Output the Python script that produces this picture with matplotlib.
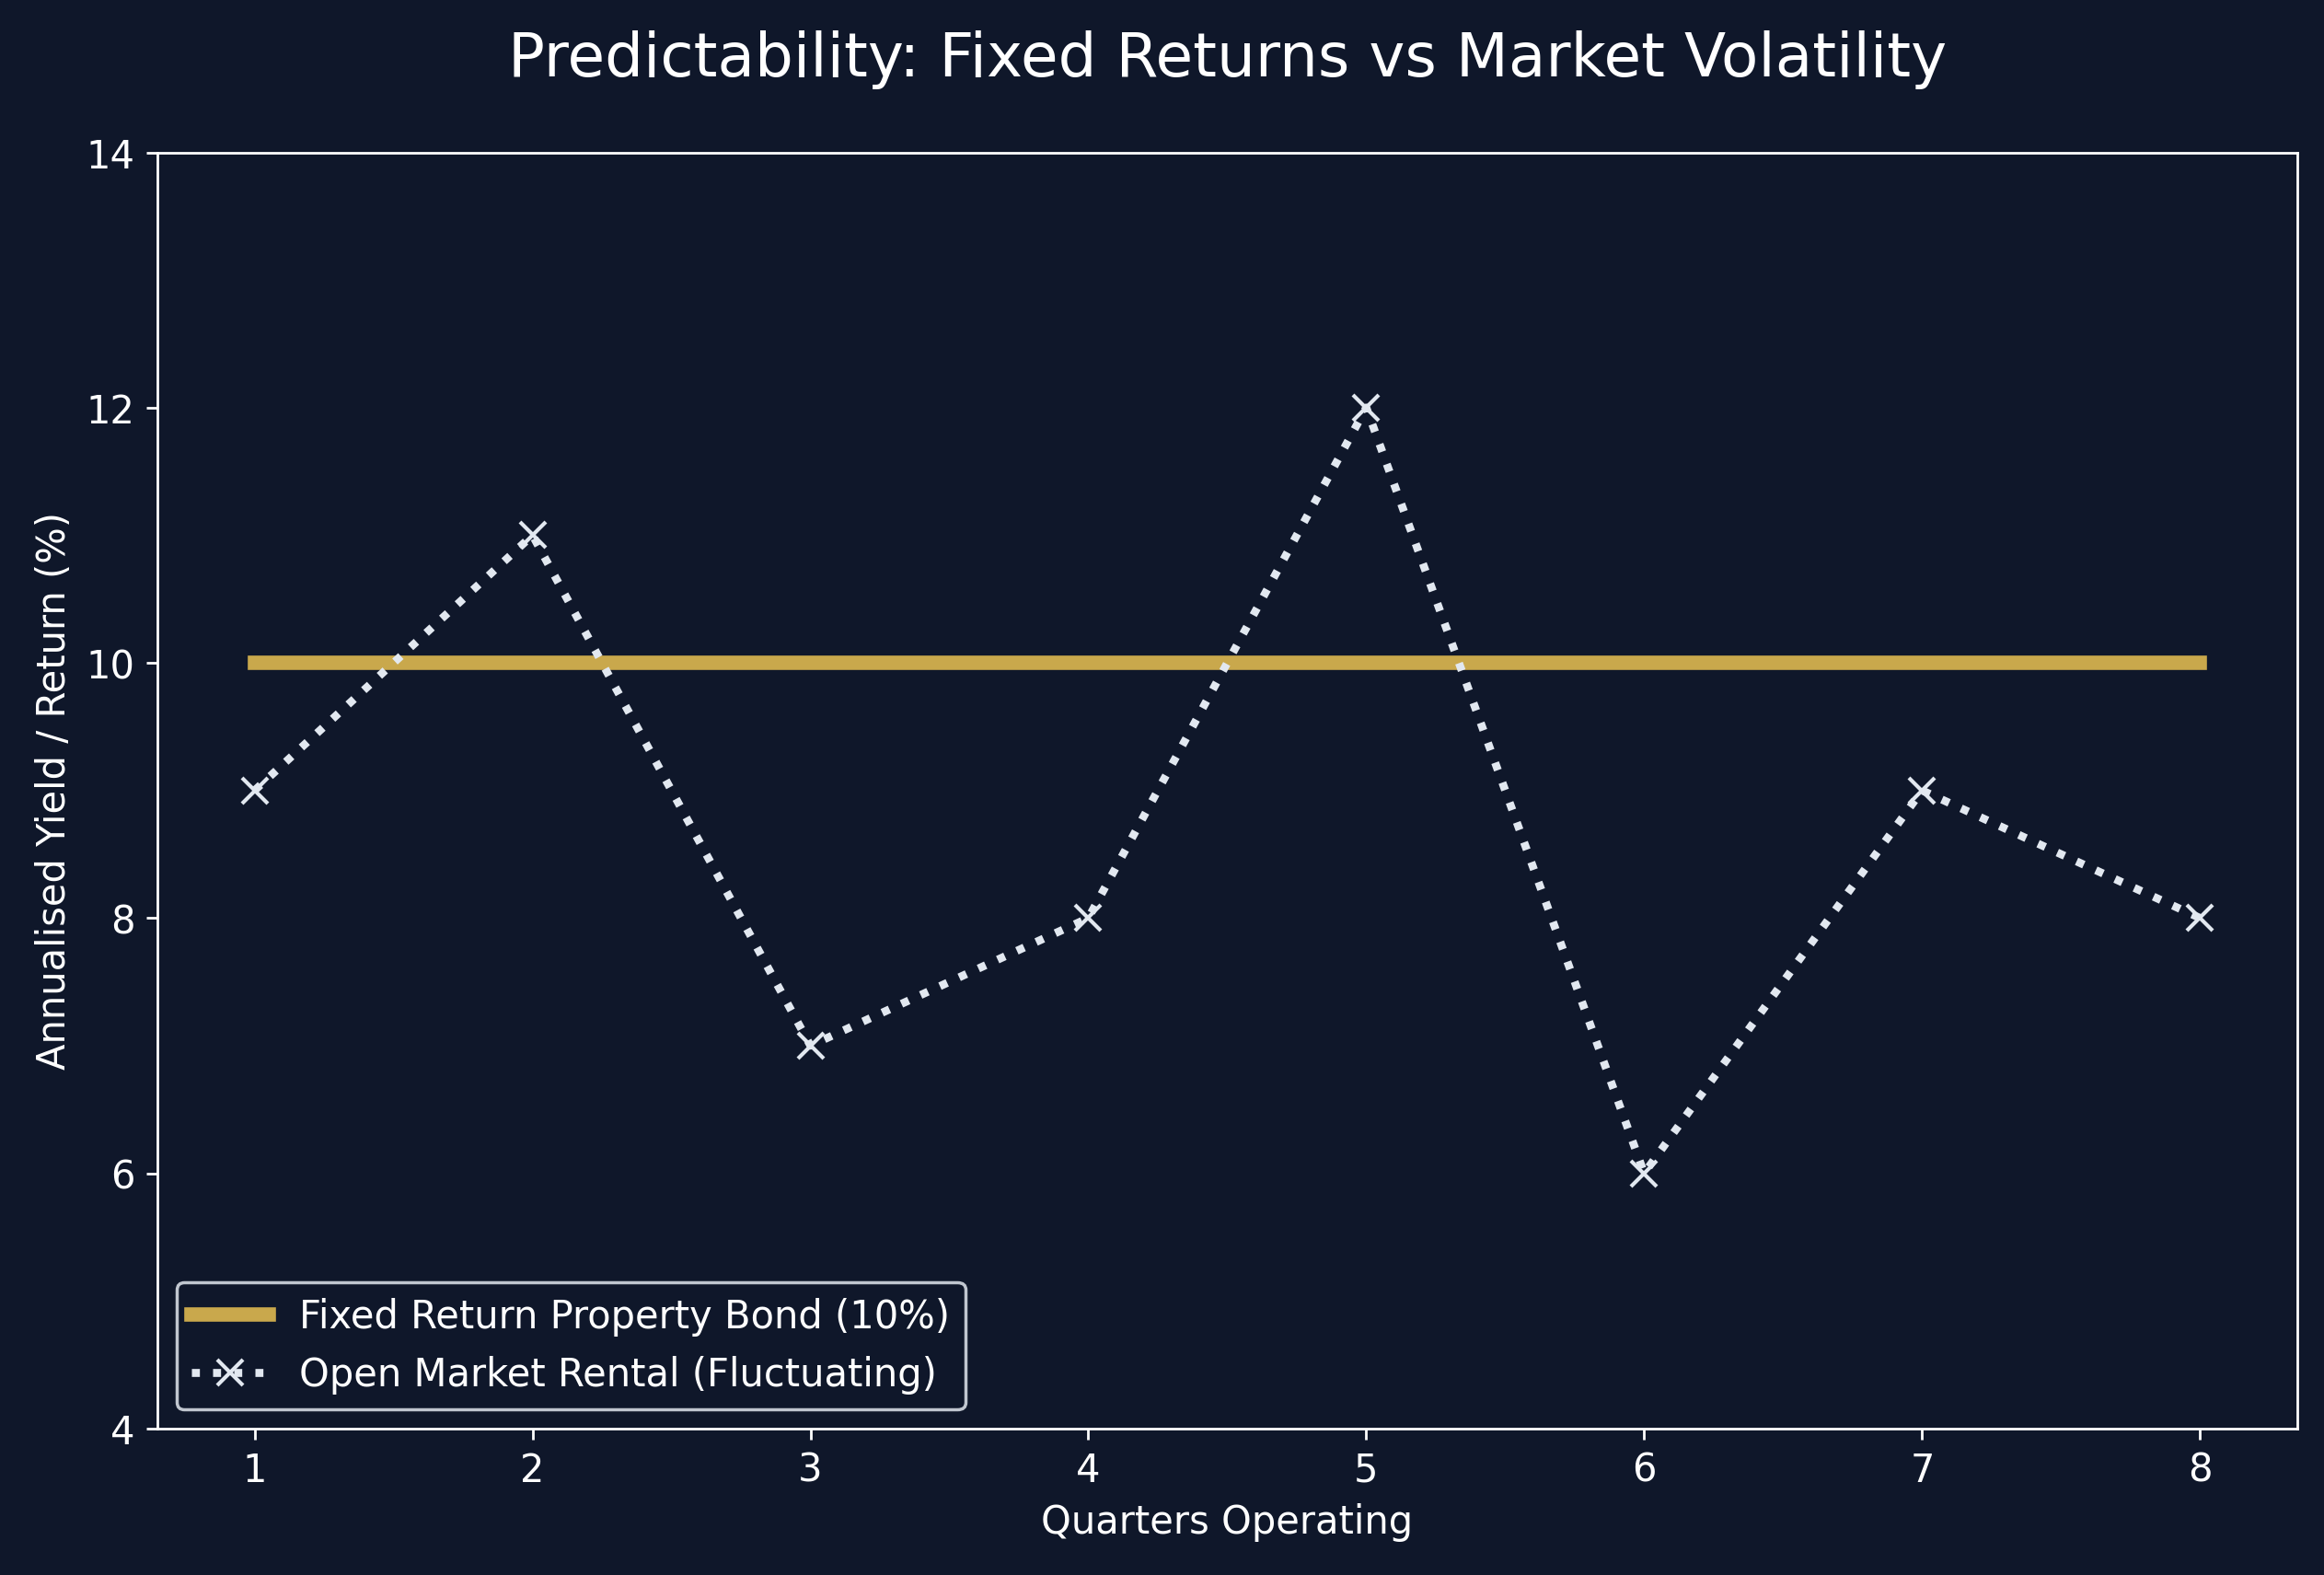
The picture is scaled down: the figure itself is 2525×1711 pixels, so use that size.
import matplotlib
matplotlib.use('Agg')
import matplotlib.pyplot as plt

# 数据
quarters = [1, 2, 3, 4, 5, 6, 7, 8]
fixed_return = [10, 10, 10, 10, 10, 10, 10, 10]
market_rental = [9, 11, 7, 8, 12, 6, 9, 8]

bg = '#0f172a'
gold = '#c9a84c'
light = '#e2e8f0'

fig, ax = plt.subplots(figsize=(10.1, 6.846), dpi=250)
fig.patch.set_facecolor(bg)
ax.set_facecolor(bg)
fig.subplots_adjust(left=0.0677, right=0.9885, top=0.903, bottom=0.093)

ax.plot(quarters, fixed_return, color=gold, linewidth=4.5,
        label='Fixed Return Property Bond (10%)')
ax.plot(quarters, market_rental, color=light, linewidth=2.5, linestyle=':',
        marker='x', markersize=8, markeredgewidth=1.2,
        label='Open Market Rental (Fluctuating)')

ax.set_ylim(4, 14)
ax.set_xticks(quarters)
ax.set_title('Predictability: Fixed Returns vs Market Volatility',
             fontsize=19, color='white', pad=24)
ax.set_xlabel('Quarters Operating', fontsize=12, color='white')
ax.set_ylabel('Annualised Yield / Return (%)', fontsize=12, color='white')
ax.tick_params(colors='white', labelsize=12)
for s in ax.spines.values():
    s.set_color('white')

leg = ax.legend(loc='lower left', fontsize=12, facecolor=bg,
                edgecolor='#c0c6cf', framealpha=1)
for t in leg.get_texts():
    t.set_color('white')

fig.savefig('out.png', dpi=250, facecolor=bg)
